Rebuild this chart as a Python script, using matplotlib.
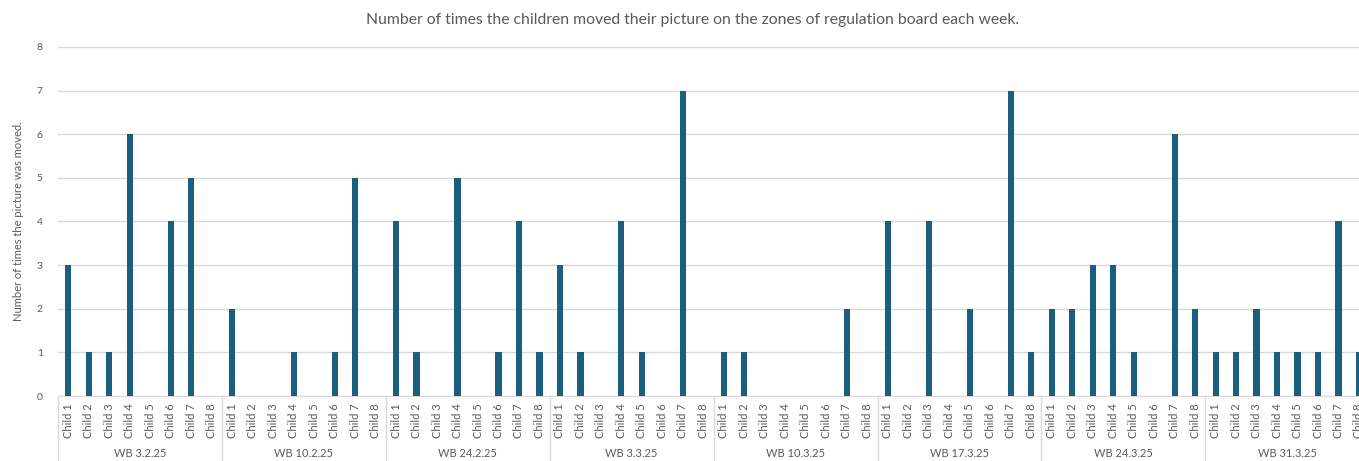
import numpy as np
import matplotlib.pyplot as plt
import matplotlib.transforms as mtransforms

plt.rcParams['font.family'] = ['Lato', 'DejaVu Sans']

weeks = ['WB 3.2.25', 'WB 10.2.25', 'WB 24.2.25', 'WB 3.3.25',
         'WB 10.3.25', 'WB 17.3.25', 'WB 24.3.25', 'WB 31.3.25']
children = ['Child %d' % i for i in range(1, 9)]

wb_03_02 = [3, 1, 1, 6, 0, 4, 5, 0]
wb_10_02 = [2, 0, 0, 1, 0, 1, 5, 0]
wb_24_02 = [4, 1, 0, 5, 0, 1, 4, 1]
wb_03_03 = [3, 1, 0, 4, 1, 0, 7, 0]
wb_10_03 = [1, 1, 0, 0, 0, 0, 2, 0]
wb_17_03 = [4, 0, 4, 0, 2, 0, 7, 1]
wb_24_03 = [2, 2, 3, 3, 1, 0, 6, 2]
wb_31_03 = [1, 1, 2, 1, 1, 1, 4, 1]

counts = np.concatenate([wb_03_02, wb_10_02, wb_24_02, wb_03_03,
                         wb_10_03, wb_17_03, wb_24_03, wb_31_03])
labels = children * len(weeks)
x = np.arange(len(counts))

bar_color = '#1b5e7e'
text_color = '#595959'
grid_color = '#d9d9d9'

fig = plt.figure(figsize=(13.59, 4.61), dpi=100)
ax = fig.add_axes([58 / 1359, 65 / 461, 1 - 58 / 1359, 349 / 461])

ax.bar(x, counts, width=0.3, color=bar_color, zorder=3)

ax.set_xlim(-0.5, 63)
ax.set_ylim(0, 8)
ax.set_yticks(range(9))
ax.yaxis.grid(True, color=grid_color, linewidth=1, zorder=0)
ax.tick_params(axis='y', length=0, labelsize=7.5, labelcolor=text_color, pad=11)
ax.set_xticks(x)
ax.set_xticklabels(labels, rotation=90, fontsize=8, color=text_color)
ax.tick_params(axis='x', length=0, pad=5)
for side in ['top', 'right', 'left']:
    ax.spines[side].set_visible(False)
ax.spines['bottom'].set_color(grid_color)

ax.set_ylabel('Number of times the picture was moved.', fontsize=8,
              color=text_color, labelpad=9)

# week group labels and dividers under the child labels
trans = mtransforms.blended_transform_factory(ax.transData, ax.transAxes)
n = len(children)
for i, wk in enumerate(weeks):
    ax.text(i * n + (n - 1) / 2, -0.165, wk, transform=trans, ha='center',
            va='center', fontsize=8, color=text_color)
for i in range(len(weeks) + 1):
    ax.plot([i * n - 0.5, i * n - 0.5], [0, -0.19], transform=trans,
            color=grid_color, linewidth=1, clip_on=False)

fig.text(693 / 1359, 1 - 20 / 461,
         'Number of times the children moved their picture on the zones '
         'of regulation board each week.',
         ha='center', va='center', fontsize=11.3, color=text_color)

fig.savefig('out.png', dpi=100)
